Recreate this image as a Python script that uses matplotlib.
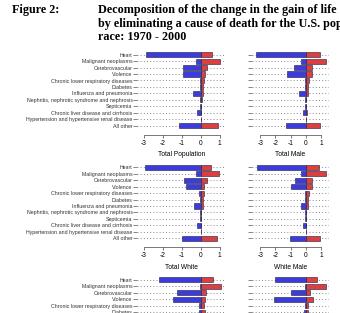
import numpy as np
import matplotlib.pyplot as plt

# ==================== DATA ====================
causes = ["Heart", "Malignant neoplasms", "Cerebrovascular", "Violence",
          "Chronic lower respiratory diseases", "Diabetes", "Influenza and pneumonia",
          "Nephritis, nephrotic syndrome and nephrosis", "Septicemia",
          "Chronic liver disease and cirrhosis",
          "Hypertension and hypertensive renal disease", "All other"]

panel_names = ["Total Population", "Total Male", "Total White", "White Male",
               "Total Black", "Black Male"]

# negative part (blue) and positive part (red) of each cause, in years
total_pop_neg = [-2.90, -0.26, -0.95, -0.95, -0.05, -0.03, -0.42, -0.03, -0.05, -0.18, -0.01, -1.12]
total_pop_pos = [0.60, 1.02, 0.35, 0.23, 0.18, 0.14, 0.14, 0.05, 0.03, 0.02, 0.02, 0.90]

total_male_neg = [-3.27, -0.33, -0.77, -1.23, -0.03, -0.02, -0.44, -0.03, -0.05, -0.20, -0.01, -1.32]
total_male_pos = [0.94, 1.33, 0.39, 0.41, 0.22, 0.13, 0.18, 0.03, 0.02, 0.05, 0.02, 0.94]

total_white_neg = [-2.93, -0.26, -0.86, -0.77, -0.07, -0.03, -0.35, -0.03, -0.06, -0.18, -0.01, -1.00]
total_white_pos = [0.54, 0.96, 0.31, 0.19, 0.18, 0.14, 0.14, 0.04, 0.02, 0.02, 0.02, 0.84]

white_male_neg = [-3.22, -0.29, -0.68, -0.96, -0.03, -0.02, -0.29, -0.03, -0.05, -0.15, -0.01, -1.03]
white_male_pos = [0.88, 1.31, 0.41, 0.41, 0.24, 0.12, 0.14, 0.03, 0.02, 0.04, 0.02, 0.94]

total_black_neg = [-2.18, -0.05, -1.26, -1.47, -0.10, -0.10, -0.40, -0.10, -0.10, -0.25, -0.10, -1.20]
total_black_pos = [0.65, 1.05, 0.28, 0.22, 0.15, 0.20, 0.10, 0.10, 0.05, 0.02, 0.05, 1.00]

black_male_neg = [-2.02, -0.02, -0.99, -2.08, -0.05, -0.10, -0.45, -0.10, -0.10, -0.30, -0.10, -1.30]
black_male_pos = [0.77, 1.33, 0.31, 0.48, 0.18, 0.15, 0.12, 0.08, 0.05, 0.02, 0.05, 1.00]

panel_neg = [total_pop_neg, total_male_neg, total_white_neg, white_male_neg, total_black_neg, black_male_neg]
panel_pos = [total_pop_pos, total_male_pos, total_white_pos, white_male_pos, total_black_pos, black_male_pos]

x_ticks = [-3, -2, -1, 0, 1]

title_head = "Figure 2:"
title_lines = ["Decomposition of the change in the gain of life expectancy",
               "by eliminating a cause of death for the U.S. population by sex and",
               "race: 1970 - 2000"]

# ==================== LAYOUT ====================
W, H = 340, 313
fig = plt.figure(figsize=(W / 100, H / 100), dpi=100)

blue = '#3c3cdc'
red = '#dc3f3f'
edge = '#1c1c40'

row_step = 6.45      # px between causes
heart_y0 = 54.7      # px of the first "Heart" row
row_gap = 112.6      # px between panel rows
cols = [(137, 226, (-3.35, 1.33)), (251.5, 329.3, (-3.57, 1.55))]

for i, name in enumerate(panel_names):
    r, c = divmod(i, 2)
    left_px, right_px, xlim = cols[c]
    heart_y = heart_y0 + r * row_gap
    top_px = heart_y - row_step * 1.0
    bottom_px = heart_y + row_step * 12.4
    ax = fig.add_axes([left_px / W, 1 - bottom_px / H,
                       (right_px - left_px) / W, (bottom_px - top_px) / H])
    ypos = np.arange(len(causes))
    for y in ypos:
        ax.axhline(y, color='#7a7a7a', lw=0.6, linestyle=(0, (1.2, 2.6)), zorder=1)
    ax.barh(ypos, panel_neg[i], height=0.8, color=blue, edgecolor=edge, lw=0.4, zorder=2)
    ax.barh(ypos, panel_pos[i], height=0.8, color=red, edgecolor=edge, lw=0.4, zorder=2)
    ax.set_xlim(*xlim)
    ax.set_ylim(12.4, -1.0)
    ax.set_xticks(x_ticks)
    ax.set_yticks(ypos)
    if c == 0:
        ax.set_yticklabels(causes, fontsize=3.8, family='Liberation Sans', color='#333333')
    else:
        ax.set_yticklabels([])
    ax.tick_params(axis='y', length=2.6, width=0.5, color='#555555', pad=0.6)
    ax.tick_params(axis='x', length=2.2, width=0.5, color='#444444', pad=1.5)
    # the third row is cut by the bottom edge: only its bars and top labels show
    if r < 2:
        ax.set_xticklabels([str(t) for t in x_ticks], fontsize=4.8, family='Liberation Sans')
        ax.set_xlabel(name, fontsize=4.8, family='Liberation Sans', labelpad=3)
    else:
        ax.set_xticklabels([])
    for s in ['top', 'right', 'left']:
        ax.spines[s].set_visible(False)
    ax.spines['bottom'].set_bounds(-3, 1)
    ax.spines['bottom'].set_linewidth(0.5)
    ax.spines['bottom'].set_color('#444444')
    ax.set_facecolor('none')

# ==================== TITLE ====================
fig.text(12 / W, 1 - 10 / H, title_head, fontsize=8.7, family='Liberation Serif',
         fontweight='bold', va='center', ha='left')
for k, line in enumerate(title_lines):
    fig.text(98 / W, 1 - (10 + 13.5 * k) / H, line, fontsize=8.7,
             family='Liberation Serif', fontweight='bold', va='center', ha='left')

fig.savefig('out.png', dpi=100)
